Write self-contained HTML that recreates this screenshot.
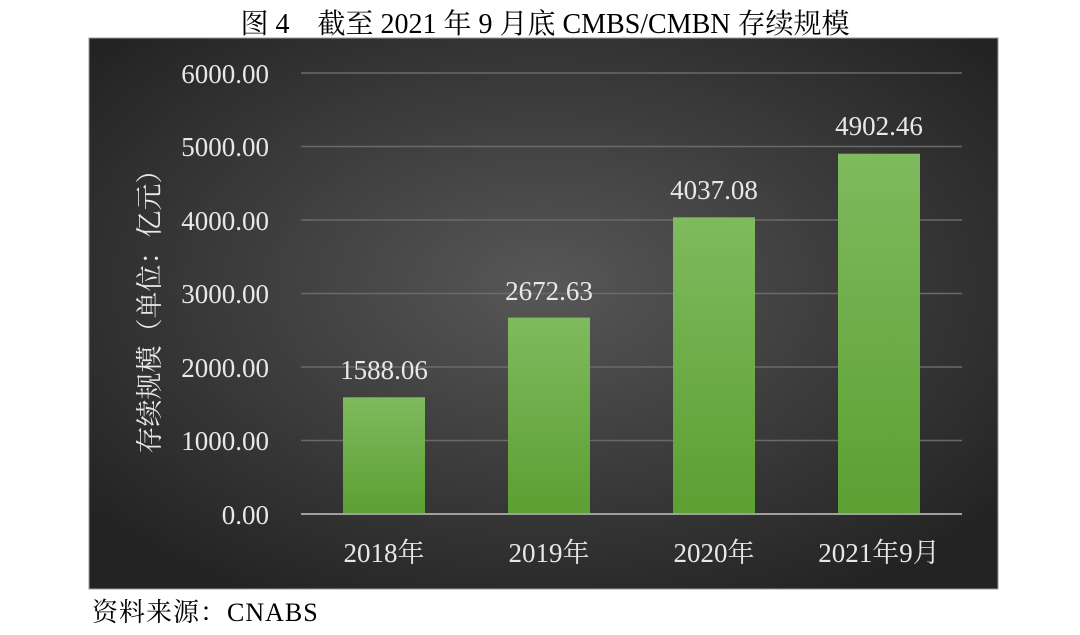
<!DOCTYPE html>
<html><head><meta charset="utf-8"><style>
body{margin:0;width:1080px;height:635px;background:#fff;position:relative;overflow:hidden;font-family:"Liberation Serif","Noto Serif CJK SC",serif}
</style></head><body>
<div style="position:absolute;top:2px;left:0;width:1090px;text-align:center;font-size:28px;color:#000;white-space:nowrap">图 4　截至 2021 年 9 月底 CMBS/CMBN 存续规模</div>
<svg width="1080" height="635" style="position:absolute;left:0;top:0" font-family="Liberation Serif, Noto Serif CJK SC, serif">
<defs>
<radialGradient id="bg" cx="0.5" cy="0.45" r="0.65">
<stop offset="0" stop-color="#575757"/><stop offset="1" stop-color="#232323"/></radialGradient>
<linearGradient id="g" x1="0" y1="0" x2="0" y2="1"><stop offset="0" stop-color="#7fba5e"/><stop offset="1" stop-color="#5c9f32"/></linearGradient>
</defs>
<rect x="89" y="38" width="909" height="551" fill="url(#bg)" stroke="#999"/>
<g stroke="#6a6a6a" stroke-width="1.5">
<line x1="301" x2="962" y1="73" y2="73"/><line x1="301" x2="962" y1="146.5" y2="146.5"/>
<line x1="301" x2="962" y1="220" y2="220"/><line x1="301" x2="962" y1="293.5" y2="293.5"/>
<line x1="301" x2="962" y1="367" y2="367"/><line x1="301" x2="962" y1="440.5" y2="440.5"/>
</g>
<g fill="url(#g)">
<rect x="343" y="397.3" width="82" height="116.7"/>
<rect x="508" y="317.6" width="82" height="196.4"/>
<rect x="673" y="217.3" width="82" height="296.7"/>
<rect x="838" y="153.7" width="82" height="360.3"/>
</g>
<line x1="301" x2="962" y1="514" y2="514" stroke="#a0a0a0" stroke-width="2"/>
<g fill="#e8e8e8" font-size="27" text-anchor="end">
<text x="269" y="83">6000.00</text><text x="269" y="156">5000.00</text><text x="269" y="230">4000.00</text>
<text x="269" y="303">3000.00</text><text x="269" y="377">2000.00</text><text x="269" y="450">1000.00</text><text x="269" y="524">0.00</text>
</g>
<g fill="#e8e8e8" font-size="27" text-anchor="middle">
<text x="384" y="379">1588.06</text><text x="549" y="300">2672.63</text>
<text x="714" y="199">4037.08</text><text x="879" y="135">4902.46</text>
<text x="384" y="562">2018年</text><text x="549" y="562">2019年</text>
<text x="714" y="562">2020年</text><text x="879" y="562">2021年9月</text>
<text transform="translate(159,305) rotate(-90)" font-size="27">存续规模（单位：亿元）</text>
</g>
</svg>
<div style="position:absolute;left:92px;top:592px;font-size:26px;color:#000;letter-spacing:1px">资料来源：CNABS</div>
</body></html>
